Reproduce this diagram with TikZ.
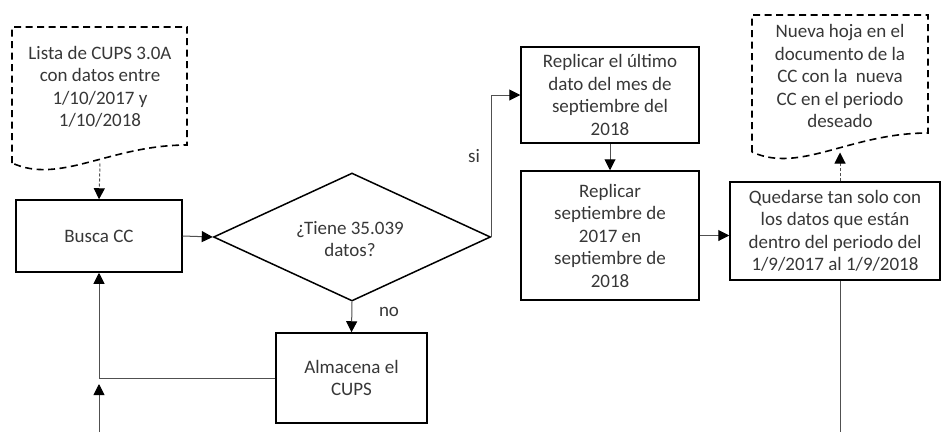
\documentclass[tikz,border=0pt]{standalone}
\usepackage{fontspec}
\setmainfont{Carlito}
\usepackage{xcolor}
\usetikzlibrary{arrows.meta,positioning,shapes.geometric,calc}
\definecolor{textgrey}{RGB}{55,55,55}
\definecolor{wiregrey}{RGB}{80,80,80}
\tikzset{
  every node/.append style={text=textgrey, font=\fontsize{19}{22.5}\selectfont, align=center},
  procbox/.style={draw=black, line width=1.5pt, rectangle, inner sep=0pt},
  decision/.style={draw=black, line width=1.5pt, diamond, inner sep=0pt, aspect=2.16},
  docedge/.style={draw=black, line width=1.6pt, dash pattern=on 7pt off 4.5pt},
  wire/.style={->, color=wiregrey, line width=1pt},
  dashwire/.style={->, color=wiregrey, line width=1pt, dash pattern=on 3pt off 2pt}
}

\begin{document}
\begin{tikzpicture}[x=1pt, y=-1pt, >={Triangle[length=11pt, width=11pt, color=black]}]
      \useasboundingbox (0,0) rectangle (941,432);

      \draw[docedge] (12,163) -- (12,27) -- (187,27) -- (187,145) .. controls (110,145) and (60,185) .. (12,163);
      \node (lista) at (100,87) {Lista de CUPS 3.0A\\con datos entre\\1/10/2017 y\\1/10/2018};
      \coordinate (listaend) at (100,163.5);

      \node[procbox, minimum width=166pt, minimum height=72pt] (busca) at (99,236) {Busca CC};
      \node[decision, minimum width=277pt, minimum height=128pt] (tiene) at (352,237) {};
      \node at (350,239) {¿Tiene 35.039\\datos?};
      \node[procbox, minimum width=151pt, minimum height=90pt] (almacena) at (351.5,378) {Almacena el\\CUPS};
      \node (no) at (389,312) {no};
      \node (si) at (474,156) {si};

      \node[procbox, minimum width=178pt, minimum height=96pt] (rep1) at (610,95) {Replicar el último\\dato del mes de\\septiembre del\\2018};
      \node[procbox, minimum width=178pt, minimum height=129pt] (rep2) at (610,235.5) {Replicar\\septiembre de\\2017 en\\septiembre de\\2018};
      \node[procbox, minimum width=210pt, minimum height=98pt] (quedar) at (835,231) {Quedarse tan solo con\\los datos que están\\dentro del periodo del\\1/9/2017 al 1/9/2018};

      \draw[docedge] (752,152) -- (752,15) -- (928,15) -- (928,133) .. controls (850,133) and (800,174) .. (752,152);
      \node (nueva) at (840,76) {Nueva hoja en el\\documento de la\\CC con la\ \ nueva\\CC en el periodo\\deseado};
      \coordinate (nuevaend) at (840,152.5);

      \coordinate (loopbot) at (99,432);
      \coordinate (loopin) at (99,384);
      \coordinate (quedarbot) at (840,432);

      \draw[dashwire] (listaend) -- (busca.north);
      \draw[wire] (busca.east) -- (tiene.west);
      \draw[wire] (tiene.south) -- (almacena.north);
      \draw[wire] (almacena.west) -| (busca.south);
      \draw[wire] (loopbot) -- (loopin);
      \draw[wire] (tiene.east) |- (rep1.west);
      \draw[wire] (rep1.south) -- (rep2.north);
      \draw[wire] (rep2.east) -- (rep2.east -| quedar.west);
      \draw[dashwire] (quedar.north -| nuevaend) -- (nuevaend);
      \draw[color=wiregrey, line width=1pt] (quedar.south -| quedarbot) -- (quedarbot);
\end{tikzpicture}
\end{document}
